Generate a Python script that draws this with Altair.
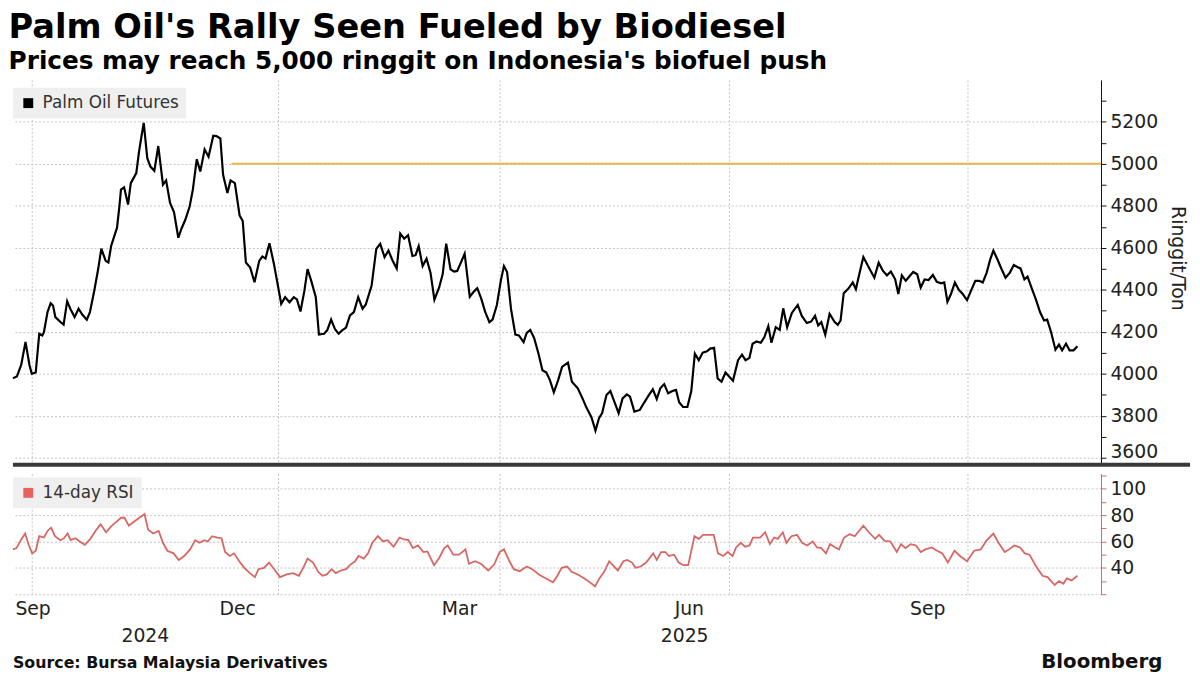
import json
import altair as alt
import pandas as pd

title_text = "Palm Oil's Rally Seen Fueled by Biodiesel"
subtitle_text = "Prices may reach 5,000 ringgit on Indonesia's biofuel push"
source_text = "Source: Bursa Malaysia Derivatives"
brand_text = "Bloomberg"
price_series = "Palm Oil Futures"
rsi_series = "14-day RSI"
price_unit = "Ringgit/Ton"

# trading-session index (x) and values
price_session = [
    0.0, 1.0, 2.1, 3.2, 4.2, 4.8, 5.8, 6.7, 7.5, 7.9,
    8.8, 9.6, 10.2, 10.8, 12.1, 12.9, 13.8, 14.6, 15.7, 16.7,
    17.7, 18.8, 19.6, 20.7, 21.7, 22.5, 23.6, 24.3, 25.0, 25.8,
    26.5, 27.1, 27.5, 28.3, 29.3, 30.0, 30.7, 31.4, 32.1, 32.7,
    33.3, 34.2, 35.0, 36.0, 37.0, 38.2, 39.0, 40.0, 41.0, 42.1,
    42.9, 43.9, 45.0, 45.8, 46.8, 47.7, 48.8, 49.8, 51.0, 51.8,
    52.8, 53.5, 54.6, 55.4, 56.5, 57.7, 58.5, 59.3, 60.4, 61.5,
    62.7, 63.5, 64.3, 65.3, 66.4, 67.3, 68.3, 69.3, 70.4, 71.5,
    72.3, 73.2, 74.2, 75.0, 76.0, 77.1, 77.9, 79.2, 80.0, 81.0,
    82.0, 82.9, 83.8, 84.8, 85.8, 86.8, 87.9, 89.0, 89.8,
    91.3, 92.5, 93.5, 94.6, 95.6, 96.7, 97.7, 98.6, 99.6, 100.6,
    101.7, 102.5, 103.3, 104.3, 105.3, 106.3, 107.3, 108.5, 109.4, 110.3,
    111.4, 112.3, 113.1, 114.2, 115.0, 116.3, 117.3, 118.2, 119.2, 120.2,
    121.3, 122.1, 123.2, 124.2, 125.0, 125.8, 126.8, 127.9, 128.8, 130.0,
    130.8, 131.7, 132.7, 133.8, 134.8, 135.8, 136.7, 137.7, 138.8, 139.8,
    141.3, 142.3, 143.8, 145.0, 146.0, 147.3, 148.3, 149.2, 150.0, 151.1,
    152.1, 153.1, 154.2, 155.2, 156.3, 157.1, 158.2, 159.6, 160.7, 161.8,
    162.9, 163.9, 164.8, 165.8, 166.8, 167.9, 168.8, 169.6, 170.6, 171.7,
    172.7, 173.6, 174.6, 175.6, 176.7, 177.5, 178.5, 179.4, 180.4, 181.4,
    183.3, 184.6, 185.6, 186.5, 187.5, 188.3, 189.3, 190.4, 191.3, 192.3,
    193.1, 194.2, 195.2, 196.1, 197.1, 198.3, 199.8, 200.8, 202.1, 203.2,
    204.2, 205.0, 205.8, 206.8, 207.9, 209.2, 210.0, 210.7, 211.5, 212.7,
    213.8, 214.6, 215.4, 216.5, 217.9, 219.3, 220.4, 221.5, 222.5, 223.5,
    224.6, 225.4, 226.3, 227.3, 228.3, 229.2, 230.2, 231.1, 232.1, 233.1,
    234.2, 235.2, 236.3, 237.1, 237.9, 238.8, 239.8, 240.8, 241.8, 242.9,
    244.0, 245.0, 246.0, 246.9, 247.9, 248.8, 249.6, 250.7, 251.7, 252.7,
    253.8, 254.8, 255.7, 256.5, 257.5, 258.3, 259.3, 260.4, 261.5, 262.5,
    263.3, 264.3, 265.4, 266.3, 267.1, 268.1, 269.0, 270.0, 271.0,
]
price_value = [
    3979, 3987, 4042, 4152, 4042, 4000, 4006, 4191, 4183, 4199,
    4294, 4336, 4325, 4270, 4247, 4234, 4346, 4310, 4270, 4310,
    4281, 4258, 4294, 4396, 4499, 4596, 4538, 4530, 4609, 4656,
    4696, 4798, 4877, 4888, 4806, 4908, 4932, 4956, 5058, 5129,
    5195, 5027, 4987, 4967, 5085, 4901, 4921, 4814, 4770, 4648,
    4691, 4735, 4798, 4877, 5022, 4964, 5069, 5034, 5134, 5132,
    5121, 4948, 4861, 4921, 4908, 4754, 4728, 4530, 4506, 4436,
    4538, 4559, 4549, 4622, 4527, 4436, 4333, 4365, 4341, 4365,
    4354, 4297, 4396, 4499, 4439, 4365, 4187, 4191, 4207, 4258,
    4212, 4191, 4207, 4220, 4278, 4294, 4365, 4310, 4329,
    4419, 4595, 4619, 4556, 4587, 4537, 4501, 4668, 4644, 4660,
    4561, 4565, 4608, 4513, 4548, 4482, 4353, 4411, 4474, 4620,
    4498, 4487, 4490, 4537, 4572, 4367, 4391, 4408, 4359, 4296,
    4246, 4258, 4328, 4443, 4513, 4485, 4309, 4187, 4183, 4151,
    4195, 4209, 4170, 4096, 4017, 4006, 3970, 3912, 3970, 4033,
    4053, 3962, 3931, 3883, 3839, 3792, 3729, 3789, 3813, 3899,
    3918, 3868, 3813, 3883, 3902, 3891, 3820, 3828, 3863, 3896,
    3926, 3880, 3931, 3951, 3907, 3918, 3923, 3865, 3842, 3842,
    3918, 4096, 4065, 4101, 4107, 4120, 4124, 3978, 3962, 4006,
    3967, 4065, 4091, 4065, 4076, 4143, 4154, 4148, 4175, 4227,
    4148, 4222, 4209, 4312, 4222, 4290, 4328, 4277, 4242, 4249,
    4277, 4230, 4246, 4186, 4285, 4246, 4233, 4254, 4384, 4406,
    4435, 4403, 4469, 4556, 4506, 4458, 4529, 4490, 4469, 4487,
    4450, 4380, 4469, 4443, 4466, 4485, 4474, 4411, 4450, 4447,
    4471, 4438, 4431, 4435, 4343, 4380, 4435, 4400, 4380, 4351,
    4400, 4443, 4443, 4435, 4482, 4545, 4587, 4542, 4498, 4458,
    4482, 4518, 4509, 4502, 4450, 4463, 4411, 4356, 4293, 4254,
    4258, 4198, 4115, 4139, 4112, 4143, 4112, 4112, 4131,
]

rsi_session = [
    0.0, 0.9, 2.0, 3.1, 4.0, 4.9, 5.8, 6.7, 7.9, 8.8,
    9.7, 10.7, 12.1, 13.0, 13.9, 14.7, 15.9, 17.0, 18.3, 19.7,
    21.0, 22.3, 23.7, 25.0, 26.4, 27.5, 28.4, 29.5, 30.8, 32.2,
    33.5, 34.4, 35.7, 37.1, 38.2, 39.3, 40.9, 42.2, 43.6, 45.1,
    46.4, 47.5, 48.7, 49.6, 50.7, 52.0, 53.1, 54.0, 55.2, 56.3,
    57.6, 58.9, 60.3, 61.6, 62.5, 63.9, 65.2, 66.5, 68.0, 69.7,
    71.3, 72.8, 73.9, 75.0, 76.4, 77.7, 78.8, 79.9, 81.1, 82.2,
    83.5, 84.8, 85.9, 87.1, 88.0, 89.3, 90.4, 91.5, 92.9, 94.2,
    95.4, 96.9, 98.4, 99.6, 100.7, 101.8, 103.1, 104.5, 105.5, 107.2,
    108.5, 109.8, 110.7, 112.1, 113.6, 115.2, 116.1, 117.7, 119.2, 121.0,
    122.5, 123.9, 125.0, 126.4, 127.5, 129.0, 130.8, 132.2, 133.9, 135.7,
    137.5,
    138.6, 139.7, 141.1, 142.2, 143.8, 145.5, 146.9, 148.2, 149.3, 150.5,
    151.8, 152.7, 154.0, 155.4, 156.4, 157.6, 158.5, 159.8, 161.2, 163.0,
    163.9, 165.0, 166.1, 167.0, 168.3, 169.5, 170.7, 171.9, 173.5, 174.6,
    175.7, 177.2, 178.4, 179.5, 180.8, 182.0, 183.2, 184.1, 185.3, 186.4,
    187.5, 188.4, 190.2, 191.5, 192.7, 193.8, 194.7, 196.0, 196.9, 198.2,
    199.6, 200.9, 202.2, 203.6, 204.7, 205.8, 207.0, 208.0, 209.4, 210.3,
    211.6, 213.0, 214.3, 216.5, 217.9, 219.5, 220.5, 221.9, 223.4, 225.0,
    226.1, 227.2, 228.6, 229.9, 231.1, 232.3, 233.9, 235.3, 236.6, 238.0,
    239.7, 241.1, 242.9, 244.7, 246.4, 247.8, 249.6, 250.9, 252.5, 253.6,
    254.9, 256.4, 257.6, 258.8, 260.3, 262.1, 263.4, 265.2, 266.3, 267.4,
    268.3, 269.5, 271.0,
]
rsi_value = [
    54, 55, 61, 66, 57.5, 51, 53, 64, 63, 68,
    70.5, 64, 61, 62.5, 66, 61, 62.5, 60, 57.5, 62,
    68, 73, 67, 71.5, 75, 78, 78, 72, 75, 78,
    80.8, 69, 66, 68, 59, 53, 51, 46, 49, 54,
    61, 59, 61, 60, 64, 63, 62.5, 52, 49, 51,
    45, 40, 36, 33, 39, 40, 44, 39, 33, 35,
    36, 34, 40, 47, 44, 37, 34, 35, 39, 36,
    38, 39, 42.5, 45, 49, 47, 51, 59, 64, 60,
    61, 56, 63, 61.5, 61, 55, 57, 52, 52.5, 42,
    47.5, 55, 57, 50, 50, 54, 43, 45, 43, 38,
    42.5, 52, 54, 45, 39, 37.5, 41, 39, 35, 32,
    29,
    34, 40, 41, 37, 35, 32, 29, 26, 32, 37,
    45, 42, 38, 45, 46, 44, 40, 41, 44, 51,
    46, 52, 52, 49, 50, 44, 42, 42, 64, 62,
    65, 65, 65, 51, 49, 52, 49, 55.5, 59, 56,
    57, 63, 63, 67, 58, 63, 62, 67, 59, 64,
    65, 59, 57, 60, 55.5, 55, 51, 58, 55.5, 54,
    63, 65.5, 64, 72, 67, 62, 65, 60.5, 60, 52,
    58, 55, 58, 57, 52, 54, 55.5, 53, 51, 44,
    53, 49, 45, 53, 54, 60.5, 66, 59, 52, 54,
    57, 55.5, 51, 50, 42, 34, 33, 27, 30, 28,
    32, 30.5, 34,
]

# quarter gridlines (session index) and the month labels shown next to them
quarter_pos = [4.75, 67.4, 123.9, 182.4, 243.1]
quarter_month = ["Sep", "Dec", "Mar", "Jun", "Sep"]
year_pos = [33.7, 171.0]
year_label = ["2024", "2025"]

target_value = 5000
target_start = 55.6
x_end = 277

price_ticks = list(range(3600, 5400, 100))
rsi_ticks = list(range(20, 111, 10))

W = 1100
H_TOP = 388
H_BOT = 122
GRID = "#c4c4c4"
FONT = "DejaVu Sans"
RSI_COLOR = "#d96663"

price_df = pd.DataFrame({"session": price_session, "price": price_value, "series": price_series})
rsi_df = pd.DataFrame({"session": rsi_session, "rsi": rsi_value, "series": rsi_series})
target_df = pd.DataFrame({"start": [target_start], "end": [x_end], "target": [target_value]})
year_df = pd.DataFrame({"pos": year_pos, "label": year_label})
foot_df = pd.DataFrame({"source": [source_text], "brand": [brand_text]})

xscale = alt.Scale(domain=[0, x_end], nice=False, zero=False)

top_xaxis = alt.Axis(values=quarter_pos, grid=True, labels=False, ticks=False,
                     domain=False, title=None, gridDash=[2, 2], gridColor=GRID)

label_expr_x = "%s[indexof(%s, datum.value)]" % (json.dumps(quarter_month), json.dumps(quarter_pos))
bot_xaxis = alt.Axis(values=quarter_pos, grid=True, labels=True, ticks=False,
                     domain=False, title=None, gridDash=[2, 2], gridColor=GRID,
                     labelExpr=label_expr_x, labelFlush=False, labelOverlap=False,
                     labelPadding=6,
                     labelOffset={"condition": {"test": "datum.value < 10", "value": 1}, "value": -41})

yscale_top = alt.Scale(domain=[3572, 5400], nice=False, zero=False)
top_yaxis = alt.Axis(orient="right", values=price_ticks, format="d",
                     labelExpr="datum.value % 200 === 0 ? datum.label : ''",
                     labelOffset={"condition": {"test": "datum.value === 3600", "value": -6}, "value": 0},
                     gridOpacity={"condition": {"test": "datum.value % 200 === 0", "value": 1}, "value": 0},
                     gridDash=[2, 2], gridColor=GRID, tickSize=5, tickColor="#111",
                     domainColor="#111", labelPadding=4, labelOverlap=False,
                     title=price_unit, titleAngle=90, titleX=77, titleY=180,
                     titleAlign="center", titleBaseline="middle", titleFontSize=19,
                     titleFontWeight="normal")

yscale_bot = alt.Scale(domain=[20, 111.5], nice=False, zero=False)
bot_yaxis = alt.Axis(orient="right", values=rsi_ticks, format="d",
                     labelExpr="(datum.value % 20 === 0 && datum.value >= 40 && datum.value <= 100) ? datum.label : ''",
                     gridOpacity={"condition": {"test": "datum.value % 20 === 0 && datum.value <= 100", "value": 1}, "value": 0},
                     gridDash=[2, 2], gridColor=GRID, tickSize=5, tickColor=RSI_COLOR,
                     domainColor=RSI_COLOR, labelPadding=4, labelOverlap=False, title=None)

legend_common = dict(orient="none", legendX=0, title=None, fillColor="#efefef",
                     padding=7, symbolType="square", symbolSize=100, symbolStrokeWidth=0,
                     labelFont=FONT, labelFontSize=17, labelColor="#333333", labelOffset=6)

line = alt.Chart(price_df).mark_line(strokeWidth=2.2).encode(
    x=alt.X("session:Q", scale=xscale, axis=top_xaxis),
    y=alt.Y("price:Q", scale=yscale_top, axis=top_yaxis),
    color=alt.Color("series:N", scale=alt.Scale(range=["#000000"]),
                    legend=alt.Legend(legendY=8, symbolFillColor="#000000", **legend_common)),
)
target = alt.Chart(target_df).mark_rule(color="#eab54e", strokeWidth=2).encode(
    x=alt.X("start:Q", scale=xscale, axis=top_xaxis),
    x2="end:Q",
    y=alt.Y("target:Q", scale=yscale_top, axis=top_yaxis),
)
separator = alt.Chart(target_df).mark_rule(color="#3a3a3a", strokeWidth=4).encode(
    x=alt.value(0), x2=alt.value(1190), y=alt.value(H_TOP + 1)
)
top = alt.layer(line, target, separator).properties(width=W, height=H_TOP)

rsi = alt.Chart(rsi_df).mark_line(strokeWidth=1.8).encode(
    x=alt.X("session:Q", scale=xscale, axis=bot_xaxis),
    y=alt.Y("rsi:Q", scale=yscale_bot, axis=bot_yaxis),
    color=alt.Color("series:N", scale=alt.Scale(range=[RSI_COLOR]),
                    legend=alt.Legend(legendY=4, symbolFillColor="#e8615f", **legend_common)),
)
years = alt.Chart(year_df).mark_text(font=FONT, fontSize=19, color="#222222", baseline="middle").encode(
    x=alt.X("pos:Q", scale=xscale, axis=bot_xaxis),
    y=alt.value(H_BOT + 42),
    text="label:N",
)
source = alt.Chart(foot_df).mark_text(font=FONT, fontSize=16, fontWeight="bold", color="#111111",
                                      align="left", baseline="middle").encode(
    x=alt.value(0), y=alt.value(H_BOT + 70), text="source:N"
)
brand = alt.Chart(foot_df).mark_text(font=FONT, fontSize=20, fontWeight="bold", color="#111111",
                                     align="right", baseline="middle").encode(
    x=alt.value(1162), y=alt.value(H_BOT + 69), text="brand:N"
)
bottom = alt.layer(rsi, years, source, brand).properties(width=W, height=H_BOT)

chart = alt.vconcat(top, bottom, spacing=0).resolve_scale(color="independent").properties(
    title=alt.TitleParams(text=title_text, subtitle=subtitle_text, anchor="start",
                          font=FONT, fontSize=34, fontWeight="bold", color="#000000",
                          subtitleFont=FONT, subtitleFontSize=25, subtitleFontWeight="bold",
                          subtitleColor="#000000", subtitlePadding=4, offset=6),
    padding=0,
).configure_view(strokeWidth=0).configure_axis(
    labelFont=FONT, labelFontSize=19, labelColor="#222222", titleFont=FONT, titleColor="#222222"
)

chart.save("out.html", embed_options={"renderer": "svg", "actions": False})
